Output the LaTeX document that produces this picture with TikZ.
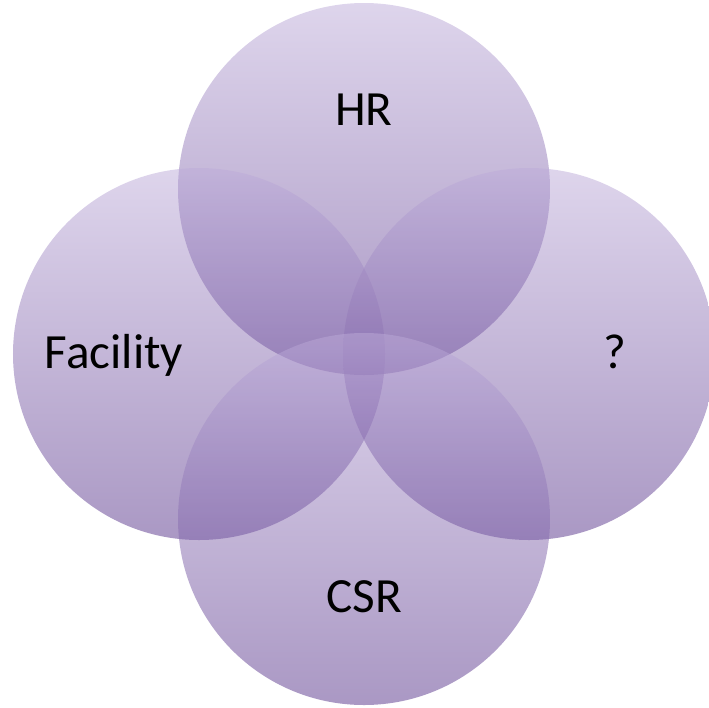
\documentclass[tikz,border=0pt]{standalone}
\usepackage{fontspec}
\setmainfont{Carlito}
\usetikzlibrary{calc}
\definecolor{LilacTop}{HTML}{BDABD9}
\definecolor{PurpleBottom}{HTML}{553189}

\begin{document}
\begin{tikzpicture}[
  venn/.style={circle,minimum size=7.44cm,inner sep=0pt,
               shade,top color=LilacTop,bottom color=PurpleBottom,fill opacity=0.5},
  setname/.style={font=\fontsize{28}{34}\selectfont,anchor=base,text=black}
]
\useasboundingbox (0,0) rectangle (14.18,-14.14);
\clip (0,0) rectangle (14.18,-14.14);

%% The four sets
\node[venn] (hr)       at (7.28,-3.78)  {};
\node[venn] (facility) at (3.98,-7.08)  {};
\node[venn] (unknown)  at (10.58,-7.08) {};
\node[venn] (csr)      at (7.28,-10.38) {};

%% Set names
\node[setname] (hrname)       at ($(hr)+(0,1.28)$)           {HR};
\node[setname] (facilityname) at ($(facility)+(-1.70,-0.28)$) {Facility};
\node[setname] (unknownname)  at ($(unknown)+(1.72,-0.28)$)  {?};
\node[setname] (csrname)      at ($(csr)+(0,-1.86)$)         {CSR};

\end{tikzpicture}
\end{document}
